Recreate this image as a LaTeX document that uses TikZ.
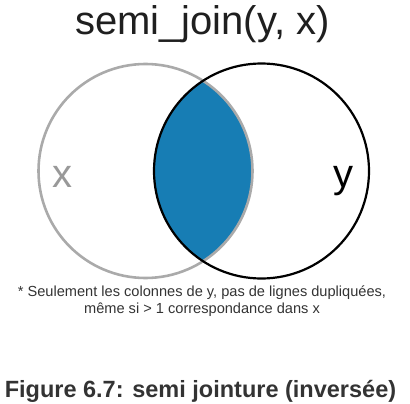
\documentclass[tikz,border=0pt]{standalone}
\usepackage{fontspec}
\setmainfont{Liberation Sans}
\definecolor{lensblue}{RGB}{23,125,180}
\definecolor{ringgray}{RGB}{170,170,170}
\definecolor{textgray}{RGB}{51,51,51}
\begin{document}
\begin{tikzpicture}[x=1pt,y=-1pt]
    \useasboundingbox (0,0) rectangle (410,404);
    % lens = x intersected with y
    \begin{scope}
        \clip (145.5,171) circle (107);
        \fill[lensblue] (261.5,171) circle (107.5);
    \end{scope}
    \draw[ringgray,line width=2.6pt] (145.5,171) circle (107);
    \draw[black,line width=2.2pt] (261.5,171) circle (107.5);
    \node (title) at (202.5,35) [anchor=base,inner sep=0pt,text=black!88,font=\fontsize{40}{44}\selectfont] {semi\_join(y, x)};
    \node (xlab) at (62.5,187) [anchor=base,inner sep=0pt,text=ringgray!90!black,font=\fontsize{40}{44}\selectfont] {x};
    \node (ylab) at (343,187) [anchor=base,inner sep=0pt,font=\fontsize{40}{44}\selectfont] {y};
    \node (note) at (202,313) [anchor=base,inner sep=0pt,align=center,text=textgray,font=\fontsize{14.6}{17}\selectfont]
        {* Seulement les colonnes de y, pas de lignes dupliquées,\\même si > 1 correspondance dans x};
    \node (caption) at (200.5,397) [anchor=base,inner sep=0pt,text=textgray,font=\bfseries\fontsize{23.5}{28}\selectfont] {Figure 6.7: semi jointure (inversée)};
\end{tikzpicture}
\end{document}
